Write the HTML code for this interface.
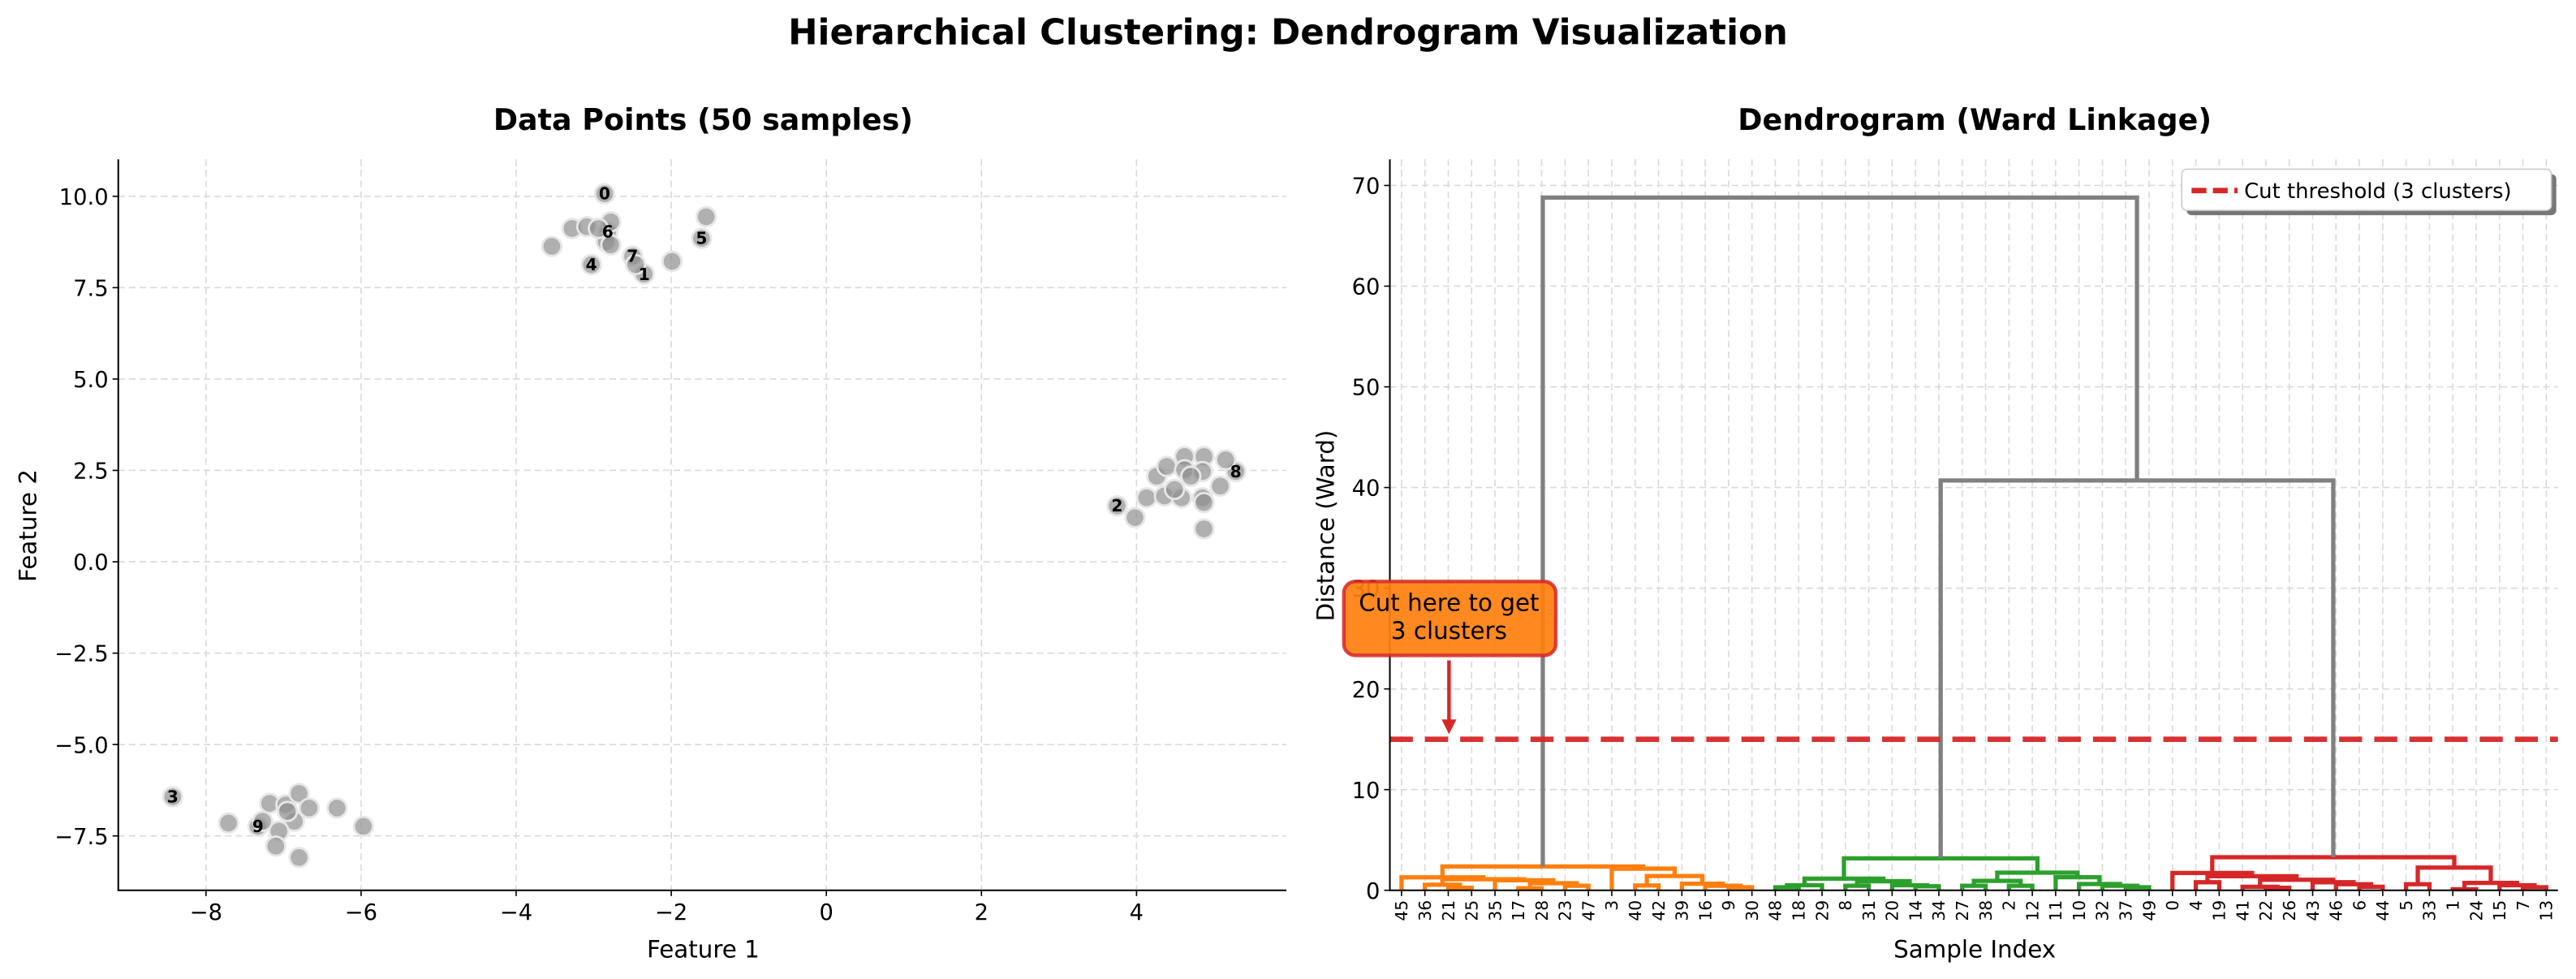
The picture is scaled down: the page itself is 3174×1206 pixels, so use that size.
<!DOCTYPE html>
<html><head><meta charset="utf-8"><style>
html,body{margin:0;padding:0;background:#fff}
svg{display:block}
text{font-family:"DejaVu Sans","Liberation Sans",sans-serif;fill:#000}
</style></head><body>
<svg id="chart" width="3174" height="1206" viewBox="0 0 1568 596" preserveAspectRatio="none" xmlns="http://www.w3.org/2000/svg">
<rect x="0" y="0" width="1568" height="596" fill="#fff"/>
<text x="784" y="27" text-anchor="middle" font-size="21.5" font-weight="bold">Hierarchical Clustering: Dendrogram Visualization</text>
<text x="428" y="79" text-anchor="middle" font-size="18" font-weight="bold">Data Points (50 samples)</text>
<text x="1202" y="79" text-anchor="middle" font-size="18" font-weight="bold">Dendrogram (Ward Linkage)</text>
<g id="left"></g>
<g id="right"></g>
<text x="428" y="583" text-anchor="middle" font-size="14.5">Feature 1</text>
<text transform="translate(22,320) rotate(-90)" text-anchor="middle" font-size="14.5">Feature 2</text>
<text x="1202" y="583" text-anchor="middle" font-size="14.5">Sample Index</text>
<text transform="translate(812,320) rotate(-90)" text-anchor="middle" font-size="14.5">Distance (Ward)</text>
</svg>
<script>
// ---------- scatter data ----------
const pointX = [-2.86,-2.35,3.75,-8.43,-3.03,-1.61,-2.82,-2.50,5.28,-7.33,
 -2.78,-3.28,-3.09,-3.54,-2.84,-2.78,-2.46,-1.99,-1.55,-2.94,
 3.98,4.13,4.26,4.39,4.36,4.58,4.62,4.62,4.87,4.85,5.15,5.08,4.85,4.87,4.87,4.70,4.49,
 -7.71,-7.18,-6.97,-6.80,-6.67,-6.86,-7.06,-7.10,-6.80,-6.31,-5.97,-6.95,-7.27];
const pointY = [10.07,7.87,1.53,-6.43,8.13,8.85,9.03,8.36,2.47,-7.24,
 9.30,9.12,9.17,8.63,8.76,8.67,8.13,8.22,9.44,9.12,
 1.21,1.75,2.34,2.61,1.80,1.75,2.88,2.52,2.88,2.47,2.79,2.07,1.75,1.62,0.90,2.34,1.98,
 -7.15,-6.61,-6.65,-6.34,-6.74,-7.10,-7.37,-7.78,-8.09,-6.74,-7.24,-6.83,-7.10];
const xTicksLeft = [-8,-6,-4,-2,0,2,4];
const yTicksLeft = [10.0,7.5,5.0,2.5,0.0,-2.5,-5.0,-7.5];
const annotatedCount = 10;

// ---------- dendrogram data ----------
const leafLabels = [45,36,21,25,35,17,28,23,47,3,40,42,39,16,9,30,
 48,18,29,8,31,20,14,34,27,38,2,12,11,10,32,37,49,
 0,4,19,41,22,26,43,46,6,44,5,33,1,24,15,7,13];
const mergeLeft  = [2,1,5,7,52,4,51,0,10,14,13,12,58,9,57, 16,65,19,22,21,67,66,24,26,72,31,30,29,28,74,71, 34,37,36,41,40,39,83,81,33,43,45,48,47,91,90,89, 80,64];
const mergeRight = [3,50,6,8,53,54,55,56,11,15,59,60,61,62,63, 17,18,20,23,68,69,70,25,27,73,32,75,76,77,78,79, 35,38,82,42,84,85,86,87,88,44,46,49,92,93,94,95, 96,97];
const mergeHeight= [0.25,0.55,0.2,0.45,0.7,1.0,1.1,1.29,0.48,0.3,0.45,0.65,1.42,2.15,2.37,
 0.3,0.5,0.45,0.4,0.5,0.9,1.16,0.45,0.45,0.94,0.3,0.45,0.62,1.3,1.75,3.17,
 0.8,0.25,0.35,0.35,0.6,0.8,1.05,1.4,1.72,0.6,0.1,0.3,0.5,0.73,2.26,3.28,
 40.7,68.8];
const cutThreshold = 15;
const yTicksRight = [0,10,20,30,40,50,60,70];
const clusterColors = ['#ff7f0e','#2ca02c','#d62728'];

const NS='http://www.w3.org/2000/svg';
function mk(parent, tag, attrs){const e=document.createElementNS(NS,tag);for(const k in attrs)e.setAttribute(k,attrs[k]);parent.appendChild(e);return e;}

// ---------- left scatter ----------
const L = document.getElementById('left');
const lx = v => 503 + 47.2*v;
const ly = v => 342 - 22.25*v;
const LX0=72, LX1=783, LY0=97, LY1=542;
xTicksLeft.forEach(t=>{
  let g=mk(L,'line',{x1:lx(t),x2:lx(t),y1:LY0,y2:LY1,stroke:'#d9d9d9','stroke-width':0.8,'stroke-dasharray':'4 2.5'});
  
  
  let tk=mk(L,'line',{x1:lx(t),x2:lx(t),y1:LY1,y2:LY1+3.5,stroke:'#000','stroke-width':0.8});
  
  
  let tx=mk(L,'text',{x:lx(t),y:LY1+18,'text-anchor':'middle','font-size':13.5});
  tx.textContent = t<0 ? '\u2212'+Math.abs(t) : String(t);
  
  
});
yTicksLeft.forEach(t=>{
  let g=mk(L,'line',{x1:LX0,x2:LX1,y1:ly(t),y2:ly(t),stroke:'#d9d9d9','stroke-width':0.8,'stroke-dasharray':'4 2.5'});
  
  
  let tk=mk(L,'line',{x1:LX0-3.5,x2:LX0,y1:ly(t),y2:ly(t),stroke:'#000','stroke-width':0.8});
  
  
  let tx=mk(L,'text',{x:LX0-6,y:ly(t)+5,'text-anchor':'end','font-size':13.5});
  tx.textContent = (t<0?'\u2212':'')+Math.abs(t).toFixed(1);
  
  
});
pointX.forEach((v,i)=>{
  let c=mk(L,'circle',{cx:lx(v),cy:ly(pointY[i]),r:5.8,fill:'#8f8f8f','fill-opacity':0.7,stroke:'#e6e6e6','stroke-width':1.4});
  
  
});
for(let i=0;i<annotatedCount;i++){
  let t=mk(L,'text',{x:lx(pointX[i]),y:ly(pointY[i])+3.5,'text-anchor':'middle','font-size':10,'font-weight':'bold'});
  t.textContent=String(i);
  
  
}
let sp=mk(L,'path',{d:`M${LX0},${LY0}V${LY1}H${LX1}`,fill:'none',stroke:'#000','stroke-width':1});



// ---------- right dendrogram ----------
const R = document.getElementById('right');
const RX0=846, RX1=1557, RY0=97, RY1=542;
const rx = v => RX0 + (v/(leafLabels.length*10))*(RX1-RX0);
const ry = v => RY1 - 6.13*v;
leafLabels.forEach((lab,i)=>{
  const x=rx(5+10*i);
  let g=mk(R,'line',{x1:x,x2:x,y1:RY0,y2:RY1,stroke:'#d9d9d9','stroke-width':0.8,'stroke-dasharray':'4 2.5'});
  
  
  let tk=mk(R,'line',{x1:x,x2:x,y1:RY1,y2:RY1+3.5,stroke:'#000','stroke-width':0.8});
  
  
  let t=mk(R,'text',{transform:`translate(${x+3.6},${RY1+6}) rotate(-90)`,'text-anchor':'end','font-size':10});
  t.textContent=String(lab);
  
  
});
yTicksRight.forEach(t=>{
  let g=mk(R,'line',{x1:RX0,x2:RX1,y1:ry(t),y2:ry(t),stroke:'#d9d9d9','stroke-width':0.8,'stroke-dasharray':'4 2.5'});
  
  
  let tk=mk(R,'line',{x1:RX0-3.5,x2:RX0,y1:ry(t),y2:ry(t),stroke:'#000','stroke-width':0.8});
  
  
  let tx=mk(R,'text',{x:RX0-6,y:ry(t)+5,'text-anchor':'end','font-size':13.5});
  tx.textContent=String(t);
  
  
});
const N=leafLabels.length;
const nodeX=[], nodeH=[];
for(let i=0;i<N;i++){nodeX[i]=rx(5+10*i);nodeH[i]=0;}
for(let k=0;k<mergeHeight.length;k++){
  nodeX[N+k]=(nodeX[mergeLeft[k]]+nodeX[mergeRight[k]])/2;
  nodeH[N+k]=mergeHeight[k];
}
const nodeColor={};
let ci=0;
function assign(n,col){
  if(n<N) return;
  const k=n-N;
  if(col===null && mergeHeight[k]<cutThreshold){col=clusterColors[ci%clusterColors.length];ci++;}
  nodeColor[n]=col||'#808080';
  assign(mergeLeft[k],col);assign(mergeRight[k],col);
}
assign(N+mergeHeight.length-1,null);
for(let k=0;k<mergeHeight.length;k++){
  const a=mergeLeft[k],b=mergeRight[k],n=N+k;
  const d=`M${nodeX[a]},${ry(nodeH[a])}V${ry(nodeH[n])}H${nodeX[b]}V${ry(nodeH[b])}`;
  let p=mk(R,'path',{d:d,fill:'none',stroke:nodeColor[n],'stroke-width':2.6,'stroke-linejoin':'miter'});
  
  
}
let cl=mk(R,'line',{x1:RX0,x2:RX1,y1:ry(cutThreshold),y2:ry(cutThreshold),stroke:'#d62728','stroke-opacity':0.95,'stroke-width':3.3,'stroke-dasharray':'14 7.4'});


let sp2=mk(R,'path',{d:`M${RX0},${RY0}V${RY1}H${RX1}`,fill:'none',stroke:'#000','stroke-width':1});



const ag=mk(R,'g',{});


let ab=mk(ag,'rect',{x:818,y:354,width:129,height:45,rx:7,fill:'#ff7f0e','fill-opacity':0.92,stroke:'#d62728','stroke-width':2.2,'stroke-opacity':0.85});


let t1=mk(ag,'text',{x:882,y:372,'text-anchor':'middle','font-size':14.5});t1.textContent='Cut here to get';


let t2=mk(ag,'text',{x:882,y:389,'text-anchor':'middle','font-size':14.5});t2.textContent='3 clusters';


let ar=mk(ag,'line',{x1:882,y1:402,x2:882,y2:440,stroke:'#d62728','stroke-width':2.2});


let ah=mk(ag,'path',{d:'M877.5,438 L886.5,438 L882,447 Z',fill:'#d62728'});



const lg=mk(R,'g',{});


let lsh=mk(lg,'rect',{x:1331,y:106,width:225,height:25,rx:3,fill:'#777'});


let lb=mk(lg,'rect',{x:1328,y:103,width:225,height:25,rx:3,fill:'#fff',stroke:'#ccc','stroke-width':0.8});


let ll=mk(lg,'line',{x1:1334,x2:1362,y1:116,y2:116,stroke:'#d62728','stroke-width':3.3,'stroke-dasharray':'9 4'});


let lt=mk(lg,'text',{x:1366,y:120.5,'font-size':12.8});lt.textContent='Cut threshold (3 clusters)';


</script>
</body></html>
